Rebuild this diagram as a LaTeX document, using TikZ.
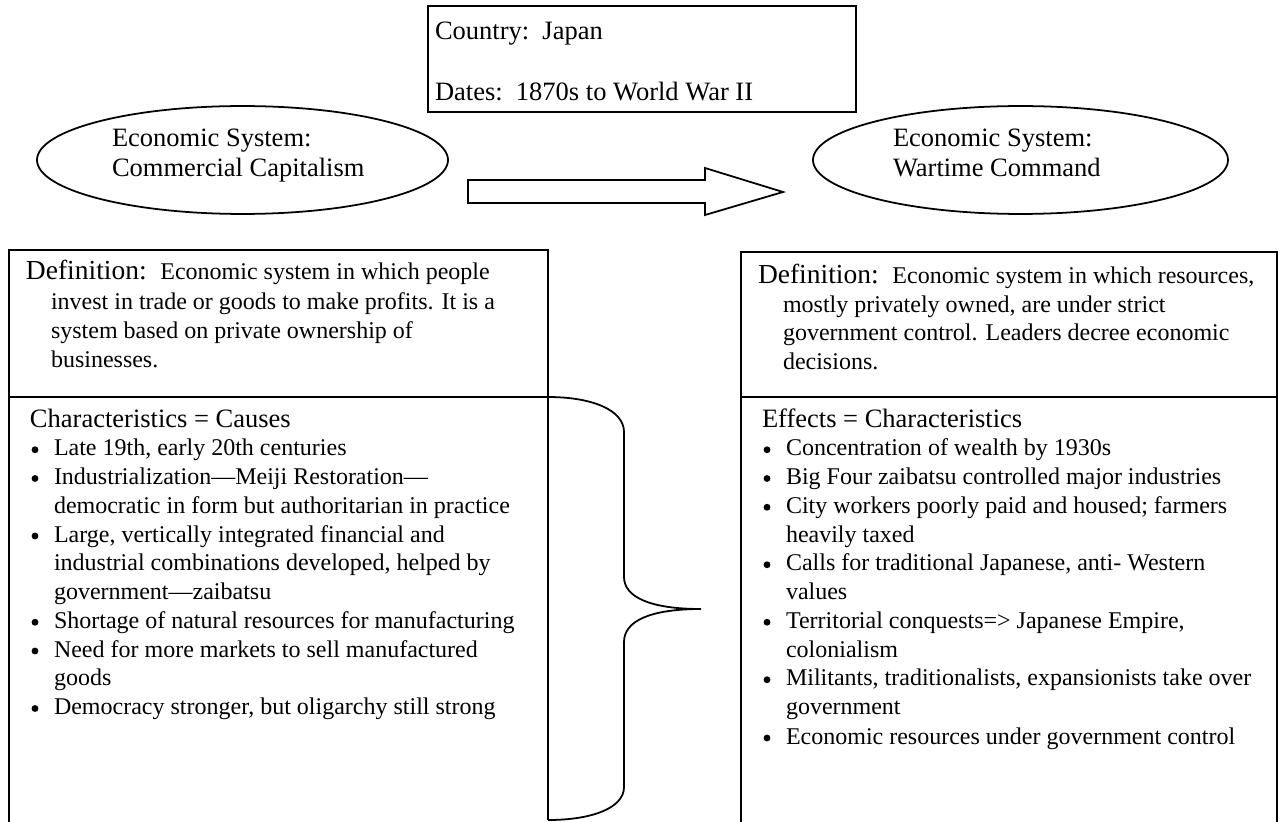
\documentclass[tikz,border=0pt]{standalone}
\usepackage{fontspec}
\setmainfont{Liberation Serif}
\usetikzlibrary{shapes.geometric}
\newcommand{\bodyf}{\fontsize{11.52}{13.8}\selectfont}
\newcommand{\headf}{\fontsize{12.72}{14.6}\selectfont}
\newcommand{\deff}{\fontsize{13.2}{15}\selectfont}
\tikzset{
  ln/.style={line width=0.85pt, black},
  txt/.style={anchor=base west, inner sep=0pt, outer sep=0pt, font=\bodyf},
  htxt/.style={txt, font=\headf},
  dot/.style={circle, fill=black, inner sep=0pt, minimum size=3.3pt},
  oval/.style={draw, ellipse, line width=0.85pt, inner sep=0pt},
  frame/.style={draw, line width=0.85pt, anchor=north west, inner sep=0pt}
}
\begin{document}
\begin{tikzpicture}[x=0.48pt, y=-0.48pt]
\useasboundingbox (0,0) rectangle (1278,822);
% top box
\node[frame, minimum width=205.44pt, minimum height=50.88pt] (top) at (427,5) {};
\node[htxt] (country) at (435,40) {Country:\ \ Japan};
\node[htxt] (dates) at (435,101) {Dates:\ \ 1870s to World War II};
% ellipses
\node[oval, minimum width=197.28pt, minimum height=51.8pt] (capE) at (242.5,160) {};
\node[htxt] (capT1) at (112,147) {Economic System:};
\node[htxt] (capT2) at (112,177) {Commercial Capitalism};
\node[oval, minimum width=199.2pt, minimum height=51.8pt] (warE) at (1020.5,160) {};
\node[htxt] (warT1) at (893,147) {Economic System:};
\node[htxt] (warT2) at (893,177) {Wartime Command};
% big arrow
\draw[ln, line join=miter] (468,180) -- (705,180) -- (705,168) -- (783,192) -- (705,215) -- (705,203) -- (468,203) -- cycle;
% left box
\coordinate (lbl) at (9,822);
\coordinate (lbr) at (548,820);
\draw[ln] (lbl) -- (9,250) -- (548,250) -- (lbr);
\draw[ln] (9,397) -- (548,397);
% brace
\coordinate (brA) at (548,397);
\coordinate (tip) at (701,609);
\draw[ln] (brA) .. controls (592,397) and (624,410) .. (624,432) -- (624,577)
  .. controls (624,597) and (650,609) .. (tip)
  .. controls (650,609) and (624,621) .. (624,642) -- (624,787)
  .. controls (624,808) and (592,820) .. (lbr);
% right box
\coordinate (rbl) at (741,822);
\coordinate (rbr) at (1277,822);
\draw[ln] (rbl) -- (741,252) -- (1277,252) -- (rbr);
\draw[ln] (741,397) -- (1277,397);
% left definition
\node[txt] (ld1) at (26,280) {{\deff Definition:\ \ }Economic system in which people};
\node[txt] (ld2) at (51,309) {invest in trade or goods to make profits. It is a};
\node[txt] (ld3) at (51,338) {system based on private ownership of};
\node[txt] (ld4) at (51,367) {businesses.};
% left list
\node[htxt] (lh) at (30,427) {Characteristics = Causes};
\node[txt] (l1) at (54,455.75) {Late 19th, early 20th centuries};
\node[txt] (l2) at (54,484.5) {Industrialization—Meiji Restoration—};
\node[txt] (l3) at (54,513.25) {democratic in form but authoritarian in practice};
\node[txt] (l4) at (54,542) {Large, vertically integrated financial and};
\node[txt] (l5) at (54,570.75) {industrial combinations developed, helped by};
\node[txt] (l6) at (54,599.5) {government—zaibatsu};
\node[txt] (l7) at (54,628.25) {Shortage of natural resources for manufacturing};
\node[txt] (l8) at (54,657) {Need for more markets to sell manufactured};
\node[txt] (l9) at (54,685.75) {goods};
\node[txt] (l10) at (54,714.5) {Democracy stronger, but oligarchy still strong};
\node[dot] (lb1) at (35,449.75) {};
\node[dot] (lb2) at (35,478.5) {};
\node[dot] (lb4) at (35,536) {};
\node[dot] (lb7) at (35,622.25) {};
\node[dot] (lb8) at (35,651) {};
\node[dot] (lb10) at (35,708.5) {};
% right definition
\node[txt] (rd1) at (758,283) {{\deff Definition:\ \ }Economic system in which resources,};
\node[txt] (rd2) at (783,312) {mostly privately owned, are under strict};
\node[txt] (rd3) at (783,340) {government control. Leaders decree economic};
\node[txt] (rd4) at (783,369) {decisions.};
% right list
\node[htxt] (rh) at (762,427) {Effects = Characteristics};
\node[txt] (r1) at (786,455.75) {Concentration of wealth by 1930s};
\node[txt] (r2) at (786,484.5) {Big Four zaibatsu controlled major industries};
\node[txt] (r3) at (786,513.25) {City workers poorly paid and housed; farmers};
\node[txt] (r4) at (786,542) {heavily taxed};
\node[txt] (r5) at (786,570.75) {Calls for traditional Japanese, anti- Western};
\node[txt] (r6) at (786,599.5) {values};
\node[txt] (r7) at (786,628.25) {Territorial conquests=> Japanese Empire,};
\node[txt] (r8) at (786,657) {colonialism};
\node[txt] (r9) at (786,685.75) {Militants, traditionalists, expansionists take over};
\node[txt] (r10) at (786,714.5) {government};
\node[txt] (r11) at (786,744) {Economic resources under government control};
\node[dot] (rb1) at (767,449.75) {};
\node[dot] (rb2) at (767,478.5) {};
\node[dot] (rb3) at (767,507.25) {};
\node[dot] (rb5) at (767,564.75) {};
\node[dot] (rb7) at (767,622.25) {};
\node[dot] (rb9) at (767,679.75) {};
\node[dot] (rb11) at (767,738) {};
\end{tikzpicture}
\end{document}
